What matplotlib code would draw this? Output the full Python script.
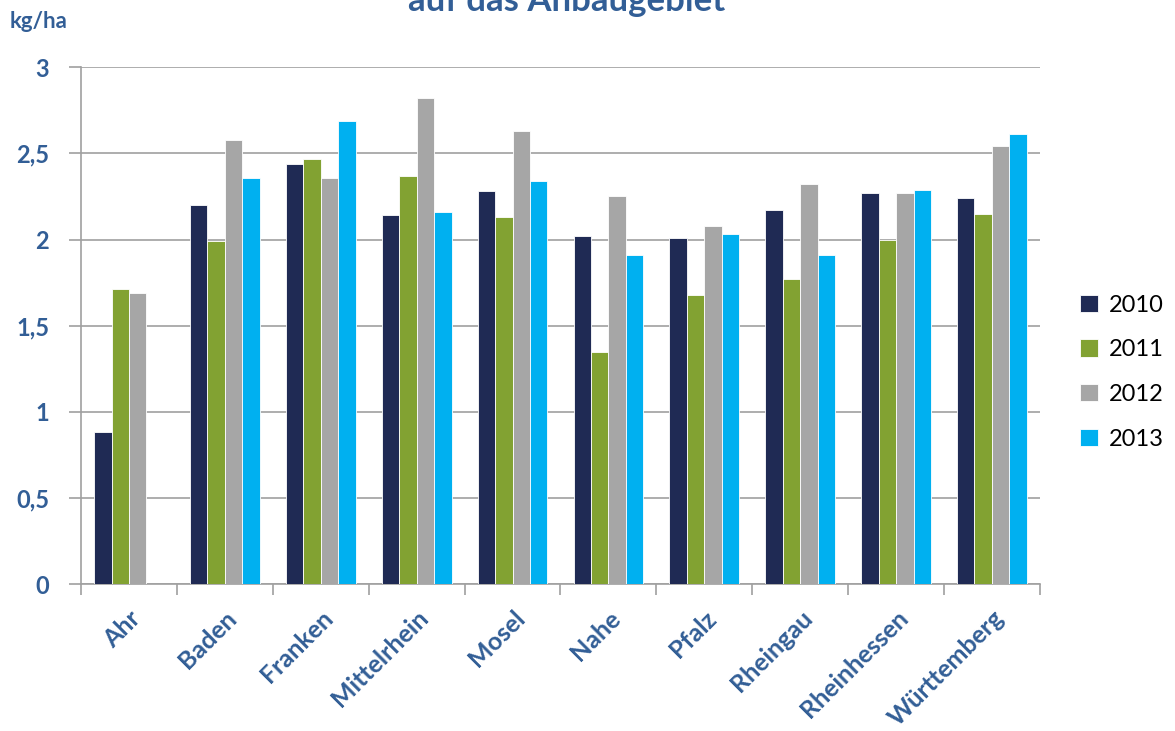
import numpy as np
import matplotlib.pyplot as plt
from matplotlib.ticker import FixedLocator

# data (kg/ha)
regions = ['Ahr', 'Baden', 'Franken', 'Mittelrhein', 'Mosel', 'Nahe', 'Pfalz',
           'Rheingau', 'Rheinhessen', 'Württemberg']
years = ['2010', '2011', '2012', '2013']
v2010 = [0.88, 2.20, 2.44, 2.14, 2.28, 2.02, 2.01, 2.17, 2.27, 2.24]
v2011 = [1.71, 1.99, 2.47, 2.37, 2.13, 1.35, 1.68, 1.77, 2.00, 2.15]
v2012 = [1.69, 2.58, 2.36, 2.82, 2.63, 2.25, 2.08, 2.32, 2.27, 2.54]
v2013 = [np.nan, 2.36, 2.69, 2.16, 2.34, 1.91, 2.03, 1.91, 2.29, 2.61]
colors = ['#1F2A54', '#82A232', '#A6A6A6', '#00B0F0']

label_col = '#325E96'
plt.rcParams['font.family'] = ['Lato', 'DejaVu Sans']

fig = plt.figure(figsize=(11.75, 7.31), dpi=100)
ax = fig.add_axes([0.069, 0.201, 0.816, 0.707])

x = np.arange(len(regions))
w = 0.182
for i, (vals, c, yr) in enumerate(zip([v2010, v2011, v2012, v2013], colors, years)):
    ax.bar(x + (i - 1.5) * w, vals, w, color=c, edgecolor='white', linewidth=0.6,
           label=yr, zorder=3)

ax.set_xlim(-0.5, len(regions) - 0.5)
ax.set_ylim(0, 3)
ax.set_yticks([0, 0.5, 1, 1.5, 2, 2.5, 3])
ax.set_yticklabels(['0', '0,5', '1', '1,5', '2', '2,5', '3'],
                   fontsize=17, fontweight='bold', color=label_col)
ax.yaxis.grid(True, color='#A0A0A0', linewidth=1.2, zorder=0)
ax.tick_params(axis='y', length=9, color='#A0A0A0', width=1.2, pad=14)

ax.set_xticks(x)
ax.set_xticklabels(regions, rotation=45, ha='right', rotation_mode='anchor',
                   fontsize=18, fontweight='bold', color=label_col)
ax.tick_params(axis='x', which='major', length=0, pad=16)
ax.xaxis.set_minor_locator(FixedLocator(np.arange(-0.5, len(regions), 1)))
ax.tick_params(axis='x', which='minor', length=8, color='#A0A0A0', width=1.2)

for s in ['top', 'right']:
    ax.spines[s].set_visible(False)
for s in ['left', 'bottom']:
    ax.spines[s].set_color('#A0A0A0')
    ax.spines[s].set_linewidth(1.2)

leg = ax.legend(loc='center left', bbox_to_anchor=(1.02, 0.41), frameon=False,
                fontsize=17, handlelength=0.75, handleheight=0.75,
                labelspacing=1.0, handletextpad=0.45)

fig.text(0.008, 0.962, 'kg/ha', fontsize=16, fontweight='bold', color=label_col)
fig.text(0.482, 0.985, 'auf das Anbaugebiet', fontsize=25, fontweight='bold',
         color=label_col, ha='center', va='baseline')

fig.savefig('out.png', dpi=100)
